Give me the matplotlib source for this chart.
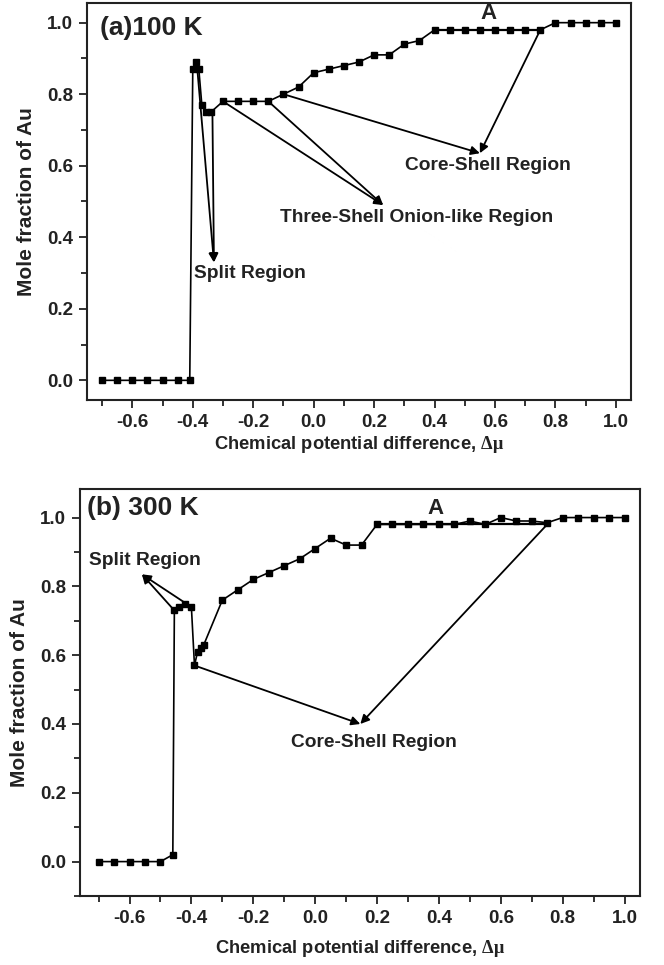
import matplotlib
matplotlib.use("Agg")
import matplotlib.pyplot as plt
from matplotlib import font_manager
from matplotlib.ticker import MultipleLocator

# (a) 100 K
x_100 = [-0.70, -0.65, -0.60, -0.55, -0.50, -0.45, -0.41,
         -0.40, -0.39, -0.38, -0.37, -0.355, -0.34,
         -0.30, -0.25, -0.20, -0.15, -0.10, -0.05, 0.00, 0.05, 0.10, 0.15,
         0.20, 0.25, 0.30, 0.35, 0.40, 0.45, 0.50, 0.55, 0.60, 0.65, 0.70, 0.75,
         0.80, 0.85, 0.90, 0.95, 1.00]
y_100 = [0, 0, 0, 0, 0, 0, 0,
         0.87, 0.89, 0.87, 0.77, 0.75, 0.75,
         0.78, 0.78, 0.78, 0.78, 0.80, 0.82, 0.86, 0.87, 0.88, 0.89,
         0.91, 0.91, 0.94, 0.95, 0.98, 0.98, 0.98, 0.98, 0.98, 0.98, 0.98, 0.98,
         1.00, 1.00, 1.00, 1.00, 1.00]

# (b) 300 K
x_300 = [-0.70, -0.65, -0.60, -0.55, -0.50, -0.46,
         -0.455, -0.44, -0.42, -0.40, -0.39, -0.38, -0.37, -0.36,
         -0.30, -0.25, -0.20, -0.15, -0.10, -0.05, 0.00, 0.05, 0.10, 0.15,
         0.20, 0.25, 0.30, 0.35, 0.40, 0.45, 0.50, 0.55, 0.60, 0.65, 0.70, 0.75,
         0.80, 0.85, 0.90, 0.95, 1.00]
y_300 = [0, 0, 0, 0, 0, 0.02,
         0.73, 0.74, 0.75, 0.74, 0.57, 0.61, 0.62, 0.63,
         0.76, 0.79, 0.82, 0.84, 0.86, 0.88, 0.91, 0.94, 0.92, 0.92,
         0.98, 0.98, 0.98, 0.98, 0.98, 0.98, 0.99, 0.98, 1.00, 0.99, 0.99, 0.985,
         1.00, 1.00, 1.00, 1.00, 1.00]

# annotations: (label, text position, arrow head, arrow tails)
notes_100 = [
    ("Split Region", (-0.21, 0.30), (-0.33, 0.33), [(-0.385, 0.87), (-0.335, 0.75)]),
    ("Three-Shell Onion-like Region", (0.34, 0.455), (0.23, 0.49), [(-0.30, 0.78), (-0.15, 0.78)]),
    ("Core-Shell Region", (0.575, 0.60), (0.55, 0.635), [(-0.10, 0.80), (0.75, 0.98)]),
]
notes_300 = [
    ("Split Region", (-0.55, 0.875), (-0.56, 0.835), [(-0.455, 0.73), (-0.40, 0.74)]),
    ("Core-Shell Region", (0.19, 0.345), (0.146, 0.40), [(-0.39, 0.57), (0.75, 0.98)]),
]
plateau_100 = (0.40, 0.75, 0.98)
plateau_300 = (0.20, 0.75, 0.98)

names = {f.name for f in font_manager.fontManager.ttflist}
FONT = "Liberation Sans" if "Liberation Sans" in names else "DejaVu Sans"
SERIF = "Liberation Serif" if "Liberation Serif" in names else "DejaVu Serif"
plt.rcParams["font.family"] = [FONT, "DejaVu Sans"]
plt.rcParams["font.weight"] = "bold"
plt.rcParams["axes.unicode_minus"] = False
plt.rcParams["mathtext.fontset"] = "custom"
plt.rcParams["mathtext.rm"] = SERIF

INK = "#222222"
fig = plt.figure(figsize=(6.64, 9.65), dpi=100)
W, H = 664, 965


def add_axes(l, t, r, b):
    return fig.add_axes([l / W, 1 - b / H, (r - l) / W, (b - t) / H])


def panel(ax, xs, ys, notes, plateau, title, title_xy, a_xy, xlim, ylim, xpad):
    ax.plot(xs, ys, "-", color="black", lw=1.2, marker="s", ms=5,
            mfc="black", mec="black", zorder=3)
    x0, x1, yp = plateau
    ax.plot([x0, x1], [yp, yp], "-", color="black", lw=1.6, zorder=2)
    for text, txy, head, tails in notes:
        for tail in tails:
            ax.annotate("", xy=head, xytext=tail,
                        arrowprops=dict(arrowstyle="-|>", color="black", lw=1.3,
                                        mutation_scale=13, shrinkA=0, shrinkB=0))
        ax.text(txy[0], txy[1], text, ha="center", va="center", fontsize=13.8,
                fontweight="bold", color=INK)
    ax.text(a_xy[0], a_xy[1], "A", ha="center", va="center", fontsize=16,
            fontweight="bold", color=INK)
    ax.text(title_xy[0], title_xy[1], title, transform=ax.transAxes,
            ha="left", va="center", fontsize=19, fontweight="bold", color=INK)
    ax.set_xlim(*xlim)
    ax.set_ylim(*ylim)
    ax.xaxis.set_major_locator(MultipleLocator(0.2))
    ax.xaxis.set_minor_locator(MultipleLocator(0.1))
    ax.yaxis.set_major_locator(MultipleLocator(0.2))
    ax.yaxis.set_minor_locator(MultipleLocator(0.1))
    ax.tick_params(which="both", direction="out", top=False, right=False, width=1.3,
                   colors=INK)
    ax.tick_params(which="major", length=6, labelsize=13.5, pad=4)
    ax.tick_params(which="minor", length=4)
    for lab in ax.get_xticklabels() + ax.get_yticklabels():
        lab.set_fontweight("bold")
    for sp in ax.spines.values():
        sp.set_linewidth(1.5)
        sp.set_color(INK)
    ax.set_xlabel(r"Chemical potential difference, $\mathrm{\Delta\mu}$", fontsize=13.2,
                  fontweight="bold", labelpad=xpad, color=INK)
    ax.set_ylabel("Mole fraction of Au", fontsize=15, fontweight="bold",
                  labelpad=8, color=INK)


ax1 = add_axes(87, 3, 631, 400)
panel(ax1, x_100, y_100, notes_100, plateau_100, "(a)100 K", (0.024, 0.937),
      (0.58, 1.025), (-0.75, 1.05), (-0.055, 1.055), 2)

ax2 = add_axes(80, 489, 640, 896)
panel(ax2, x_300, y_300, notes_300, plateau_300, "(b) 300 K", (0.012, 0.953),
      (0.39, 1.025), (-0.76, 1.05), (-0.1, 1.083), 8)

fig.savefig("out.png", dpi=100)
